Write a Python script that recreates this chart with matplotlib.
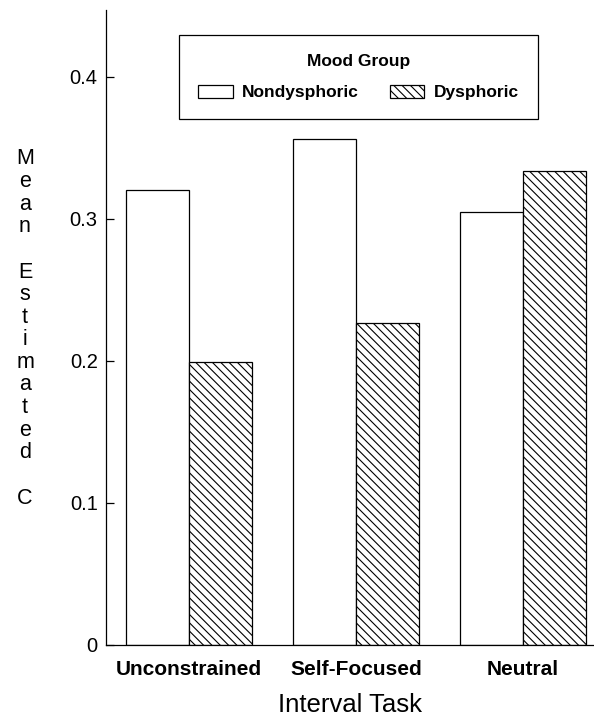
import matplotlib
matplotlib.use("Agg")
import matplotlib.pyplot as plt
import numpy as np

# ---- data ----
categories = ["Unconstrained", "Self-Focused", "Neutral"]
nondysphoric = [0.320, 0.356, 0.305]
dysphoric = [0.199, 0.227, 0.334]
series_names = ["Nondysphoric", "Dysphoric"]
yticks = [0, 0.1, 0.2, 0.3, 0.4]
ytick_labels = ["0", "0.1", "0.2", "0.3", "0.4"]
legend_title = "Mood Group"
xlabel = "Interval Task"
ylabel = "Mean  Estimated  C"

plt.rcParams["font.family"] = ["Liberation Sans", "DejaVu Sans"]
plt.rcParams["hatch.linewidth"] = 0.8

W, H = 594, 723
fig = plt.figure(figsize=(W / 100, H / 100), dpi=100)
ax_left, ax_right, ax_top, ax_bottom = 106, 594, 10, 645
ax = fig.add_axes([ax_left / W, 1 - ax_bottom / H,
                   (ax_right - ax_left) / W, (ax_bottom - ax_top) / H])

x = np.arange(len(categories))
bw = 0.377
ax.bar(x - bw / 2, nondysphoric, bw, color="white", edgecolor="black",
       linewidth=0.9, label=series_names[0])
ax.bar(x + bw / 2, dysphoric, bw, color="white", edgecolor="black",
       linewidth=0.9, hatch="\\\\\\\\", label=series_names[1])

ax.set_xlim(-0.497, 2.425)
ax.set_ylim(0, 0.447)
for s in ["top", "right"]:
    ax.spines[s].set_visible(False)
for s in ["left", "bottom"]:
    ax.spines[s].set_linewidth(0.9)

ax.set_yticks(yticks)
ax.set_yticklabels(ytick_labels, fontsize=14.5)
ax.tick_params(axis="y", direction="in", length=6, width=0.9, pad=6)
ax.set_xticks(x)
ax.set_xticklabels(categories, fontsize=15, fontweight="bold")
ax.tick_params(axis="x", length=0, pad=11)
ax.set_xlabel(xlabel, fontsize=18.5, labelpad=10)

# vertical stacked y label
lines = []
for word_i, word in enumerate(ylabel.split()):
    if word_i > 0:
        lines.append("")
    lines.extend(list(word))
for i, ch in enumerate(lines):
    if ch:
        fig.text(25 / W, 1 - (159 + i * 22.6) / H, ch, fontsize=15.5,
                 ha="center", va="center")

# legend
bx0, bx1, by0, by1 = 179, 538, 35, 118
aw = ax_right - ax_left
ah = ax_bottom - ax_top
leg = ax.legend(loc="upper left",
                bbox_to_anchor=((bx0 - ax_left) / aw, (ax_bottom - by1) / ah,
                                (bx1 - bx0) / aw, (by1 - by0) / ah),
                mode="expand", ncol=2, title=legend_title,
                title_fontproperties={"size": 12.5, "weight": "bold"},
                prop={"size": 12.5, "weight": "bold"},
                fancybox=False, framealpha=1, edgecolor="black",
                handlelength=2.0, handleheight=0.8, handletextpad=0.55,
                columnspacing=1.8, borderpad=1.1, labelspacing=0.9,
                borderaxespad=0)
leg.get_frame().set_linewidth(0.9)

fig.savefig("out.png", dpi=100)
